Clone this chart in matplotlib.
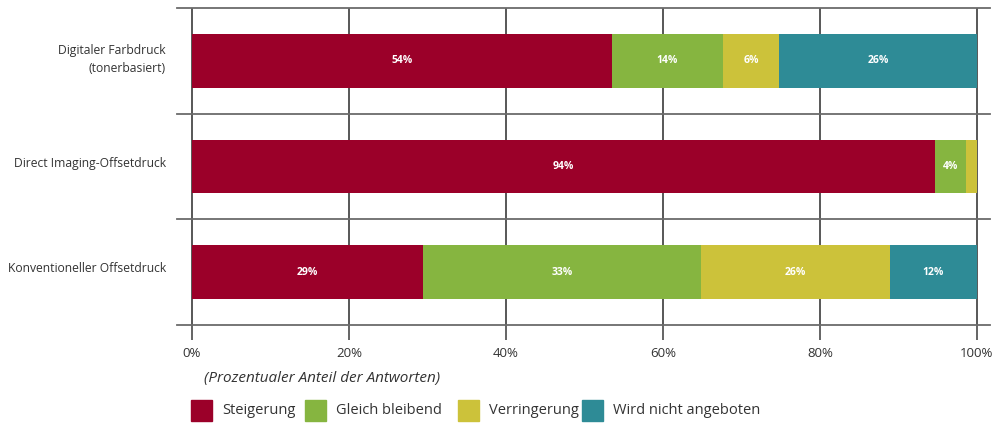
import matplotlib
matplotlib.use("Agg")
import matplotlib.pyplot as plt
from matplotlib.patches import Rectangle
from matplotlib.transforms import ScaledTranslation

plt.rcParams['font.family'] = ['Open Sans', 'DejaVu Sans']

categories = ["Digitaler Farbdruck\n(tonerbasiert)", "Direct Imaging-Offsetdruck", "Konventioneller Offsetdruck"]
series = ["Steigerung", "Gleich bleibend", "Verringerung", "Wird nicht angeboten"]
colors = ["#9B0029", "#86B540", "#CCC23A", "#2E8B96"]
# bar widths as drawn (percent)
steigerung = [53.5, 94.6, 29.4]
gleich = [14.1, 4.0, 35.5]
verringerung = [7.2, 1.4, 24.0]
nicht = [25.2, 0.0, 11.1]
# printed labels
lab_steigerung = ["54%", "94%", "29%"]
lab_gleich = ["14%", "4%", "33%"]
lab_verringerung = ["6%", "", "26%"]
lab_nicht = ["26%", "", "12%"]
xticks = [0, 20, 40, 60, 80, 100]
xticklabels = ["0%", "20%", "40%", "60%", "80%", "100%"]
xlabel = "(Prozentualer Anteil der Antworten)"

W, H = 995, 423
fig = plt.figure(figsize=(W / 100, H / 100), dpi=100)
ax = fig.add_axes([177 / W, 1 - 325 / H, (990 - 177) / W, (325 - 8) / H])

vals = [steigerung, gleich, verringerung, nicht]
labs = [lab_steigerung, lab_gleich, lab_verringerung, lab_nicht]
y = list(range(len(categories)))
left = [0.0] * len(categories)
for v, l, c in zip(vals, labs, colors):
    bars = ax.barh(y, v, left=left, height=0.51, color=c, zorder=3, linewidth=0)
    for i, b in enumerate(bars):
        if l[i]:
            ax.text(left[i] + v[i] / 2, y[i], l[i], ha='center', va='center',
                    color='white', fontsize=7.5, fontweight='bold', zorder=4)
    left = [a + b for a, b in zip(left, v)]

ax.set_xlim(-1.91, 101.66)
ax.set_ylim(len(categories) - 0.5, -0.5)
for yy in [k - 0.5 for k in range(len(categories) + 1)]:
    ax.axhline(yy, color='#6b6b6b', lw=1.3, zorder=2, clip_on=False)

ax.set_xticks(xticks)
ax.set_xticklabels(xticklabels, fontsize=9.5, color='#333333')
ax.tick_params(axis='x', direction='out', length=11, width=1.1, color='#3a3a3a', pad=5)
ax.xaxis.grid(True, color='#2a2a2a', lw=1.1, zorder=1)
ax.set_yticks(y)
ax.set_yticklabels(categories, fontsize=8.7, color='#333333', ha='right', linespacing=1.45)
ax.tick_params(axis='y', length=0, pad=8)
shift = ScaledTranslation(0, 0.05, fig.dpi_scale_trans)
for lbl in ax.get_yticklabels():
    lbl.set_transform(lbl.get_transform() + shift)
for s in ax.spines.values():
    s.set_visible(False)

fig.text(204 / W, 1 - 378 / H, xlabel, fontsize=11, style='italic', color='#333333',
         ha='left', va='center')

# legend
sq_x = [191, 305, 458, 582]
for sx, name, c in zip(sq_x, series, colors):
    fig.patches.append(Rectangle((sx / W, 1 - 421 / H), 21 / W, 21 / H, color=c,
                                 transform=fig.transFigure, figure=fig))
    fig.text((sx + 31) / W, 1 - 410 / H, name, fontsize=10.5, color='#333333',
             ha='left', va='center')

fig.savefig("out.png", dpi=100)
